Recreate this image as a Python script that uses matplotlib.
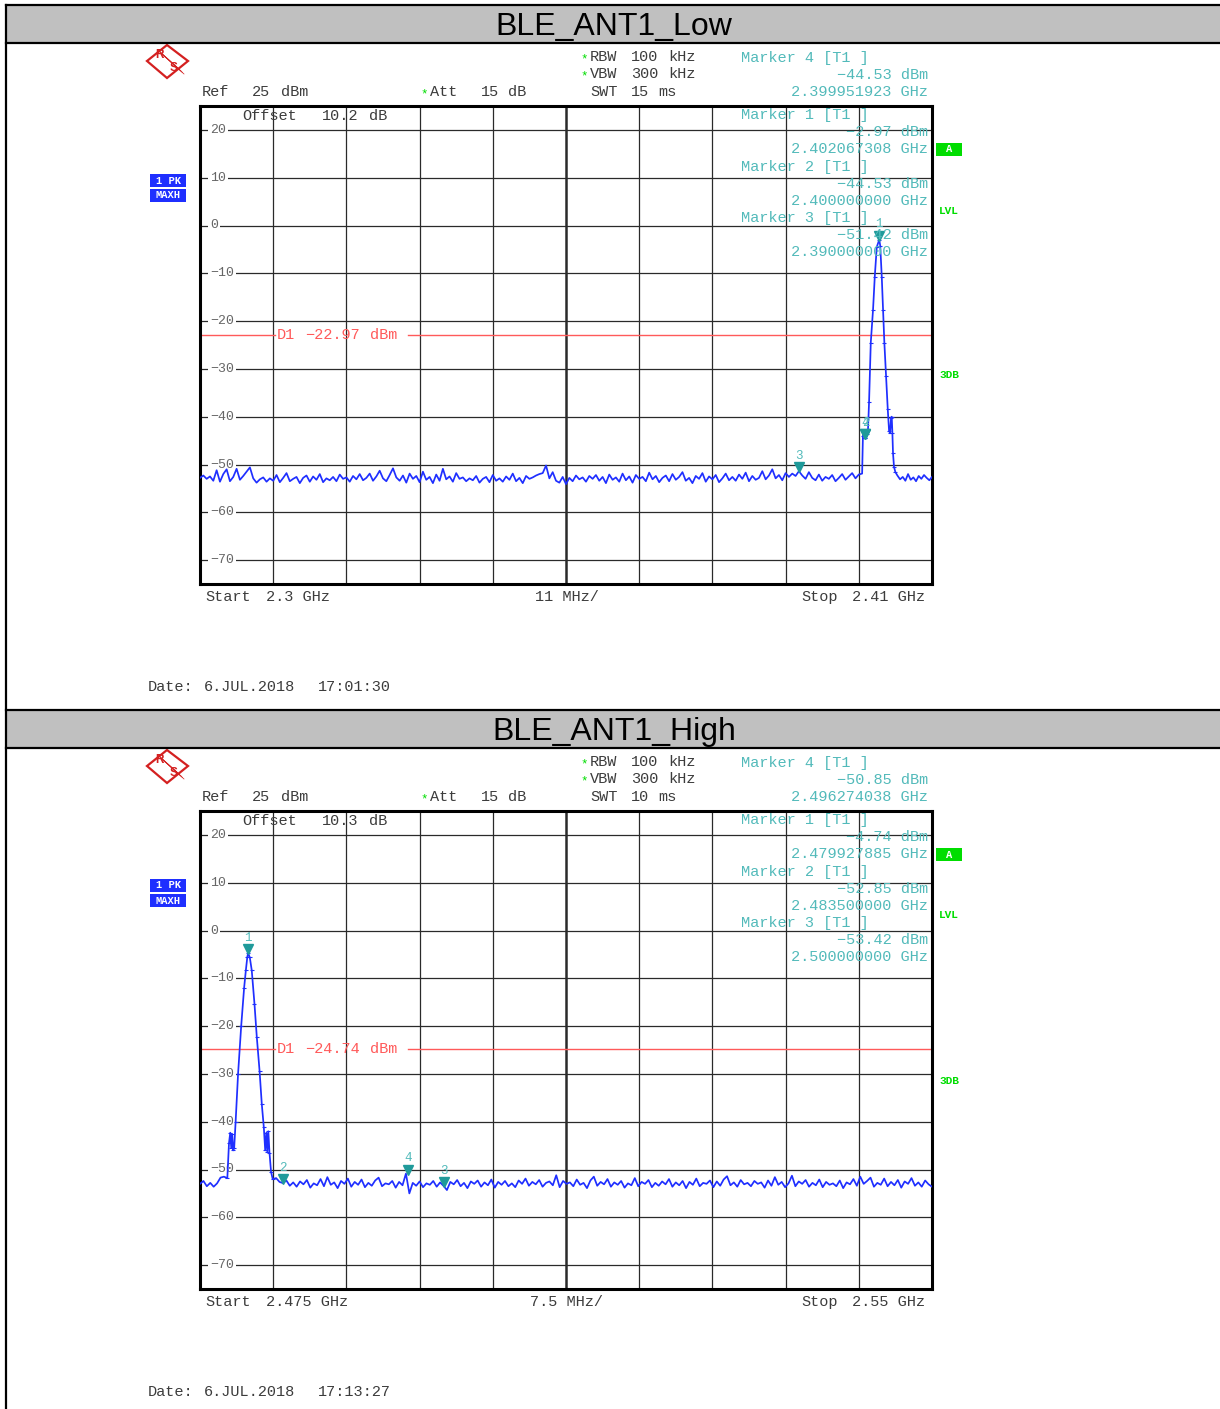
import numpy as np
import matplotlib.pyplot as plt
from matplotlib.patches import Rectangle, Polygon
from matplotlib.transforms import blended_transform_factory, offset_copy

W, H = 1220, 1409
MONO = ['Liberation Mono', 'DejaVu Sans Mono']
SANS = ['Liberation Sans', 'DejaVu Sans']

# ---- panel settings ----
titles = ['BLE_ANT1_Low', 'BLE_ANT1_High']
f_start = [2.3, 2.475]
f_stop = [2.41, 2.55]
start_lbl = ['2.3 GHz', '2.475 GHz']
stop_lbl = ['2.41 GHz', '2.55 GHz']
span_lbl = ['11 MHz/', '7.5 MHz/']
swt_ms = ['15', '10']
offset_db = ['10.2', '10.3']
d1_level = [-22.97, -24.74]
date_time = ['17:01:30', '17:13:27']
y_levels = [20, 10, 0, -10, -20, -30, -40, -50, -60, -70]

# ---- markers (number, freq GHz, level dBm) ----
mk_num = [1, 2, 3, 4]
low_mk_freq = [2.402067308, 2.400000000, 2.390000000, 2.399951923]
low_mk_lvl = [-2.97, -44.53, -51.42, -44.53]
high_mk_freq = [2.479927885, 2.483500000, 2.500000000, 2.496274038]
high_mk_lvl = [-4.74, -52.85, -53.42, -50.85]

# ---- low channel trace ----
low_noise_a = [
    -52.8, -52.3, -53.0, -52.5, -53.4, -51.2, -53.6, -52.0, -51.0, -53.5,
    -52.6, -50.9, -53.2, -52.4, -51.5, -50.6, -52.9, -53.8, -53.1, -52.7,
    -53.6, -52.9, -53.4, -52.2, -53.7, -52.8, -51.8, -53.5, -53.0, -52.6,
    -53.9, -52.8, -52.3, -53.6, -52.5, -53.2, -52.0, -53.7, -52.9, -53.3,
    -52.6, -53.5, -52.1, -53.0, -52.7, -53.6, -52.4, -53.1, -52.0, -53.3,
    -52.8, -51.9, -53.4, -52.5, -51.3, -52.9, -53.5, -52.2, -50.8, -52.7,
    -53.4, -52.3, -53.8, -51.9, -53.0, -52.4, -53.7, -51.5, -53.2, -52.6,
    -53.9, -52.1, -53.4, -50.9, -53.1, -52.5, -53.6, -51.8, -53.0, -52.7,
    -53.5, -52.9, -53.3, -52.4, -53.8, -53.0, -52.6, -53.7, -52.2, -53.4,
    -52.9, -53.6, -52.5, -53.2, -51.9, -53.5, -52.8, -53.9, -52.4, -53.0,
    -52.7, -52.3, -52.0, -51.8, -50.2, -52.9, -51.6, -53.4, -53.8, -52.6,
    -54.1, -52.8, -53.5, -52.3, -53.1, -52.7, -53.6, -52.4, -53.0, -52.2,
    -53.4, -52.6, -53.9, -52.1, -53.2, -52.7, -53.6, -51.9, -53.3, -52.5,
    -53.8, -52.2, -53.0, -52.6, -53.5, -51.7, -53.1, -52.4, -53.7, -52.8,
    -52.3, -53.5, -52.0, -53.2, -52.6, -51.6, -53.4, -52.8, -53.9, -52.4,
    -53.0, -51.8, -53.6, -52.5, -53.1, -52.2, -53.7, -52.9, -51.9, -53.3,
    -52.6, -53.4, -52.1, -53.0, -51.7, -53.5, -52.4, -53.2, -52.8, -51.4,
    -53.1, -52.3, -51.0, -52.9, -52.2, -53.3, -51.8, -52.6, -51.9, -52.4,
    -51.4, -52.3, -53.0, -51.6, -52.8, -53.3, -52.1, -53.4, -52.6, -53.0,
    -52.2, -53.5, -52.8, -52.0, -53.2, -52.5, -51.8, -52.9, -52.1, -51.9,
]
low_peak_f = [2.39962, 2.39975, 2.39995, 2.40000, 2.40015, 2.40030, 2.40039,
              2.40054, 2.40080, 2.40114, 2.40140, 2.40170, 2.40207, 2.40222,
              2.40245, 2.40264, 2.40284, 2.40309, 2.40335, 2.40355, 2.40370,
              2.40385, 2.40395, 2.40405, 2.40414, 2.40429, 2.40450]
low_peak_lvl = [-44.0, -43.2, -44.53, -44.53, -42.8, -43.6, -42.5,
                -37.0, -24.5, -17.6, -10.7, -4.5, -2.97, -4.2,
                -10.7, -17.6, -24.5, -31.5, -38.4, -43.0, -43.4,
                -40.2, -40.0, -43.5, -47.6, -50.5, -51.6]
low_noise_b = [-52.3, -53.1, -52.6, -53.4, -52.0, -53.2, -52.7,
               -53.5, -52.4, -53.0, -52.2, -52.8, -53.3, -52.6]

# ---- high channel trace ----
high_noise_a = [-53.0, -52.4, -53.5, -52.8, -53.6, -52.9, -51.7, -51.5]
high_peak_f = [2.47780, 2.47797, 2.47810, 2.47820, 2.47830, 2.47840, 2.47850,
               2.47865, 2.47890, 2.47922, 2.47952, 2.47970, 2.47985, 2.479928,
               2.48010, 2.48030, 2.48058, 2.48082, 2.48110, 2.48133, 2.48154,
               2.48168, 2.48180, 2.48190, 2.48200, 2.48212, 2.48228, 2.48245]
high_peak_lvl = [-51.8, -44.5, -42.3, -45.5, -42.6, -46.0, -45.6,
                 -40.0, -30.0, -20.0, -12.0, -8.3, -5.5, -4.74,
                 -5.6, -8.3, -15.3, -22.3, -29.3, -36.3, -41.2,
                 -46.0, -42.3, -46.3, -42.0, -46.5, -50.5, -52.0]
high_noise_b = [
    -51.8, -52.6, -52.85, -52.3, -53.4, -52.7, -53.6, -52.5, -53.1, -52.2,
    -53.8, -52.9, -53.3, -52.0, -53.5, -51.6, -53.2, -52.7, -53.9, -52.4,
    -53.0, -51.9, -53.6, -52.6, -53.2, -52.1, -53.7, -52.8, -53.4, -52.3,
    -51.7, -53.5, -52.9, -53.1, -52.4, -53.8, -52.6, -53.3, -50.85, -55.0,
    -52.8, -53.4, -52.5, -53.7, -52.9, -53.2, -52.4, -53.6, -52.7, -53.42,
    -54.3, -52.6, -53.1, -52.2, -53.5, -52.8, -53.9, -52.5, -53.0, -52.3,
    -53.6, -52.7, -53.3, -52.1, -53.8, -52.6, -53.2, -52.4, -53.5, -52.9,
    -53.7, -52.3, -53.0, -51.9, -53.4, -52.6, -53.1, -52.2, -53.6, -52.8,
    -52.5, -53.3, -51.2, -53.7, -52.4, -53.0, -52.7, -53.5, -52.1, -53.2,
    -52.8, -53.9, -52.3, -51.5, -53.4, -52.6, -53.1, -52.0, -53.6, -52.7,
    -53.2, -52.4, -53.8, -52.9, -53.3, -51.8, -53.5, -52.6, -53.0, -52.2,
    -53.7, -52.8, -53.4, -52.5, -53.1, -52.0, -53.6, -52.7, -53.3, -52.4,
    -53.9, -52.6, -53.2, -51.9, -53.5, -52.8, -53.0, -52.3, -53.7, -52.5,
    -53.4, -52.1, -51.4, -53.3, -52.7, -53.6, -52.2, -53.1, -52.8, -53.5,
    -52.4, -53.0, -52.7, -53.8, -52.3, -53.4, -51.6, -53.2, -52.6, -53.7,
    -52.9, -51.3, -53.5, -52.5, -53.0, -52.2, -53.6, -52.8, -53.3, -52.1,
    -53.7, -52.6, -53.2, -52.9, -53.5, -52.3, -53.9, -52.7, -53.1, -52.0,
    -53.4, -51.5, -53.0, -52.4, -51.7, -53.6, -52.8, -53.2, -51.9, -53.5,
    -52.6, -53.3, -52.2, -53.8, -52.5, -53.0, -51.8, -53.4, -52.7, -53.6,
    -52.3, -53.1, -53.6,
]

# sweep sample positions for the noise parts
low_f_a = np.linspace(2.3, 2.3995, len(low_noise_a))
low_f_b = np.linspace(2.4048, 2.41, len(low_noise_b))
high_f_a = np.linspace(2.475, 2.47745, len(high_noise_a))
high_f_b = np.linspace(2.4828, 2.55, len(high_noise_b))

traces = [
    (np.concatenate([low_f_a, low_peak_f, low_f_b]),
     np.concatenate([low_noise_a, low_peak_lvl, low_noise_b]),
     low_peak_f, low_peak_lvl, low_mk_freq, low_mk_lvl),
    (np.concatenate([high_f_a, high_peak_f, high_f_b]),
     np.concatenate([high_noise_a, high_peak_lvl, high_noise_b]),
     high_peak_f, high_peak_lvl, high_mk_freq, high_mk_lvl),
]

TXT = '#3c3c3c'
TEAL = '#52baba'
TRI = '#1f9a9a'
RED = '#ff5a5a'
BLUE = '#1f2fff'
GREEN = '#00dd00'
LOGO = '#d42020'

fig = plt.figure(figsize=(W / 100, H / 100), dpi=100)
ov = fig.add_axes([0, 0, 1, 1], zorder=5)
ov.set_xlim(0, W)
ov.set_ylim(H, 0)
ov.axis('off')


def put(x, y, s, color=TXT, size=11, ha='left', **kw):
    # y is the visual middle of the capitals
    ov.text(x, y + 4.2, s, color=color, fontsize=size, family=MONO, ha=ha,
            va='baseline', **kw)


def star(x, y):
    ov.text(x, y + 5.5, '*', color=GREEN, fontsize=9, family=MONO,
            ha='left', va='baseline')


# table frame
ov.plot([6, 6], [5, H], color='black', lw=1.6)

for k in range(2):
    dy = 705 * k
    f0, f1 = f_start[k], f_stop[k]
    freqs, lvls, pk_f, pk_l, mk_f, mk_l = traces[k]

    # title bar
    ov.add_patch(Rectangle((6, 5 + dy), W - 6, 38, fc='#c0c0c0', ec='none'))
    ov.plot([6, W], [5 + dy, 5 + dy], color='black', lw=1.6)
    ov.plot([6, W], [43 + dy, 43 + dy], color='black', lw=1.6)
    ov.text(614, 27 + dy, titles[k], fontsize=23, family=SANS,
            ha='center', va='center', color='black')

    # R&S logo
    ov.add_patch(Polygon([(147, 61 + dy), (167, 45 + dy), (188, 61 + dy),
                          (167, 78 + dy)], closed=True, fc='white',
                         ec=LOGO, lw=1.6))
    for s in range(5):
        ov.plot([158 + 1.5 * s, 178 + 1.5 * s],
                [50 + dy + 1.5 * s, 68 + dy + 1.5 * s], color=LOGO, lw=0.5)
    ov.text(160, 55 + dy, 'R', color=LOGO, fontsize=8.5, family=SANS,
            weight='bold', ha='center', va='center')
    ov.text(174, 68 + dy, 'S', color=LOGO, fontsize=8.5, family=SANS,
            weight='bold', ha='center', va='center')

    # header settings
    star(580, 57 + dy)
    put(590, 57 + dy, 'RBW')
    put(631, 57 + dy, '100')
    put(668, 57 + dy, 'kHz')
    star(580, 74 + dy)
    put(590, 74 + dy, 'VBW')
    put(631, 74 + dy, '300')
    put(668, 74 + dy, 'kHz')
    put(590, 92 + dy, 'SWT')
    put(631, 92 + dy, swt_ms[k])
    put(658, 92 + dy, 'ms')
    put(202, 92 + dy, 'Ref')
    put(252, 92 + dy, '25')
    put(281, 92 + dy, 'dBm')
    star(420, 92 + dy)
    put(430, 92 + dy, 'Att')
    put(481, 92 + dy, '15')
    put(508, 92 + dy, 'dB')

    # marker readout block
    order = [3, 0, 1, 2]
    for i, m in enumerate(order):
        y0 = 57.5 + 3 * i * 17.15 + (6 if i > 0 else 0) + dy
        put(741, y0, 'Marker %d [T1 ]' % mk_num[m], color=TEAL)
        put(928, y0 + 17.15, ('%.2f dBm' % mk_l[m]).replace('-', '\u2212'),
            color=TEAL, ha='right')
        put(928, y0 + 34.3, '%.9f GHz' % mk_f[m], color=TEAL, ha='right')

    put(242, 116 + dy, 'Offset')
    put(322, 116 + dy, offset_db[k])
    put(369, 116 + dy, 'dB')

    # side labels
    ov.add_patch(Rectangle((150, 174 + dy), 36, 13, fc=BLUE, ec='none'))
    ov.add_patch(Rectangle((150, 189 + dy), 36, 13, fc=BLUE, ec='none'))
    ov.text(168, 180.5 + dy, '1 PK', color='white', fontsize=7.5, family=MONO,
            weight='bold', ha='center', va='center')
    ov.text(168, 195.5 + dy, 'MAXH', color='white', fontsize=7.5, family=MONO,
            weight='bold', ha='center', va='center')
    ov.add_patch(Rectangle((936, 143 + dy), 26, 13, fc=GREEN, ec='none'))
    ov.text(949, 149.5 + dy, 'A', color='white', fontsize=7.5, family=MONO,
            weight='bold', ha='center', va='center')
    ov.text(939, 210.5 + dy, 'LVL', color=GREEN, fontsize=8, family=MONO,
            weight='bold', ha='left', va='center')
    ov.text(939, 375.5 + dy, '3DB', color=GREEN, fontsize=8, family=MONO,
            weight='bold', ha='left', va='center')

    # footer
    put(205, 597 + dy, 'Start')
    put(266, 597 + dy, start_lbl[k])
    put(567, 597 + dy, span_lbl[k], ha='center')
    put(801, 597 + dy, 'Stop')
    put(852, 597 + dy, stop_lbl[k])
    put(148, 687 + dy, 'Date:')
    put(204, 687 + dy, '6.JUL.2018')
    put(318, 687 + dy, date_time[k])

    # spectrum axes
    ax = fig.add_axes([200 / W, 1 - (584 + dy) / H, 732 / W, 478 / H],
                      zorder=2)
    ax.set_xlim(f0, f1)
    ax.set_ylim(-75, 25)
    ax.set_xticks([])
    ax.set_yticks([])
    for sp in ax.spines.values():
        sp.set_linewidth(2.2)
    blend = blended_transform_factory(ov.transData, ax.transData)

    divs = np.linspace(f0, f1, 11)[1:-1]
    for i, f in enumerate(divs):
        ax.axvline(f, color='#2a2a2a', lw=1.8 if i == 4 else 0.9, zorder=1)
    for lv in y_levels:
        ax.axhline(lv, color='#2a2a2a', lw=0.9, zorder=1)
        ax.text(210, lv, str(lv).replace('-', '\u2212'), transform=blend,
                fontsize=9.5, family=MONO, color='#666666', ha='left',
                va='center', zorder=3,
                bbox=dict(boxstyle='square,pad=0.12', fc='white', ec='none'))

    # display line D1
    ax.axhline(d1_level[k], xmin=0, xmax=75 / 732, color=RED, lw=1, zorder=2)
    ax.axhline(d1_level[k], xmin=208 / 732, xmax=1, color=RED, lw=1, zorder=2)
    d1_tr = offset_copy(blend, fig=fig, y=-4.2, units='dots')
    for xp, s in [(277, 'D1'),
                  (305, ('%.2f' % d1_level[k]).replace('-', '\u2212')),
                  (370, 'dBm')]:
        ax.text(xp, d1_level[k], s, transform=d1_tr, fontsize=11,
                family=MONO, color=RED, va='baseline', zorder=3)

    # trace
    ax.plot(freqs, lvls, color=BLUE, lw=1.25, zorder=4)
    ax.plot(pk_f, pk_l, ls='none', marker='_', ms=3, mew=0.8, color=BLUE,
            zorder=4)

    # markers
    tri = offset_copy(ax.transData, fig=fig, y=4, units='dots')
    ax.plot(mk_f, mk_l, 'v', ms=7, color=TRI, transform=tri, zorder=6,
            clip_on=False)
    for n, f, l in zip(mk_num, mk_f, mk_l):
        ax.annotate(str(n), (f, l), xytext=(0, 11), textcoords='offset points',
                    ha='center', va='center', fontsize=9, family=MONO,
                    color=TEAL, zorder=6)

fig.savefig('out.png', dpi=100)
plt.close(fig)
